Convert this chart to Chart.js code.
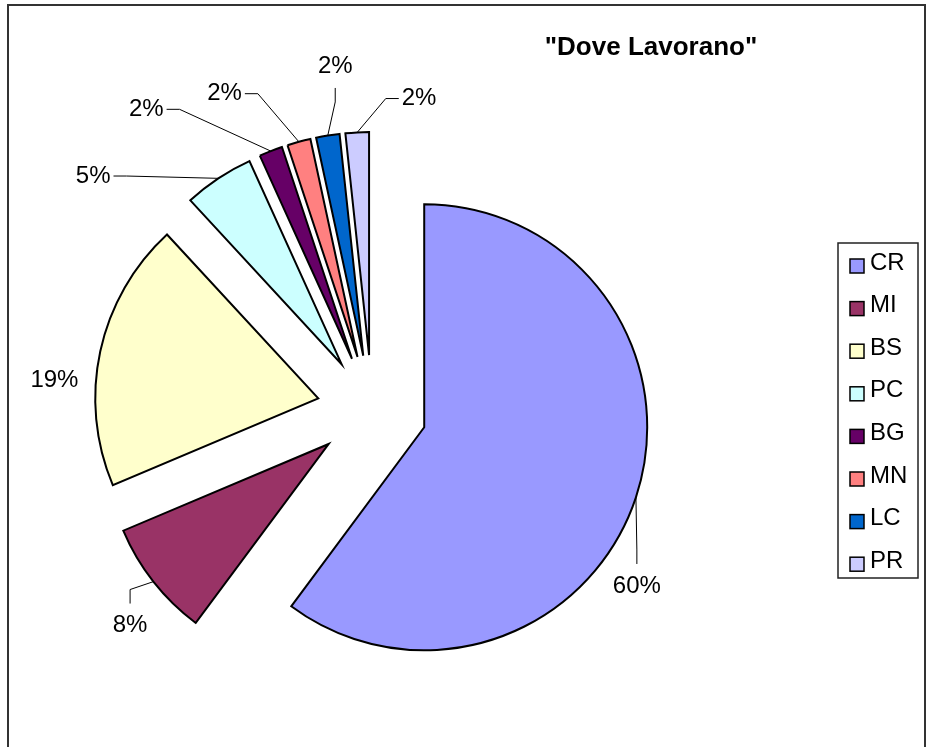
<!DOCTYPE html>
<html>
<head>
<meta charset="utf-8">
<script src="https://cdn.jsdelivr.net/npm/chart.js@4/dist/chart.umd.min.js"></script>
<style>
  html, body { margin: 0; padding: 0; background: #fff; }
  #wrap { width: 933px; height: 747px; }
</style>
</head>
<body>
<div id="wrap"><canvas id="pieChart" width="933" height="747"></canvas></div>
<script>
// Data
const categories = ['CR', 'MI', 'BS', 'PC', 'BG', 'MN', 'LC', 'PR'];
const counts = [71, 10, 23, 6, 2, 2, 2, 2];
const titleText = '"Dove Lavorano"';

// Styling
const sliceColors = ['#9999FF', '#993366', '#FFFFCC', '#CCFFFF', '#660066', '#FF8080', '#0066CC', '#CCCCFF'];
const FONT = "'Liberation Sans', Arial, sans-serif";
const EXPLODE = 55;   // distance every slice is pulled out of the centre
const RADIUS = 223;

// Where the percentage labels sit (degrees clockwise from top, distance from pie centre)
const labelAngle = [123.6, 228.3, 275.4, 310.0, 323.1, 335.0, 353.9, 8.6];
const labelDist = [318, 324, 319, 364, 376, 349, 346, 315];
const showLeader = [true, true, false, true, true, true, true, true];

const total = counts.reduce((a, b) => a + b, 0);

// Draw each slice shifted outwards along its middle angle (Excel style explosion)
const explodePlugin = {
    id: 'explode',
    beforeDatasetDraw(chart, args) {
        const ctx = chart.ctx;
        args.meta.data.forEach(arc => {
            const mid = (arc.startAngle + arc.endAngle) / 2;
            ctx.save();
            ctx.translate(Math.cos(mid) * EXPLODE, Math.sin(mid) * EXPLODE);
            arc.draw(ctx, chart.chartArea);
            ctx.restore();
        });
        return false;
    }
};

// Frame, title, percentage labels with leader lines, boxed legend
const decorPlugin = {
    id: 'decor',
    afterDraw(chart) {
        const ctx = chart.ctx;
        const meta = chart.getDatasetMeta(0);

        // outer frame
        ctx.save();
        ctx.strokeStyle = '#333';
        ctx.lineWidth = 2;
        ctx.strokeRect(8, 5, 917, 800);

        // title
        ctx.fillStyle = '#000';
        ctx.font = 'bold 26px ' + FONT;
        ctx.textAlign = 'center';
        ctx.textBaseline = 'middle';
        ctx.fillText(titleText, 651, 48);

        // percentage labels
        ctx.font = '24px ' + FONT;
        meta.data.forEach((arc, i) => {
            const cx = arc.x, cy = arc.y;
            const a = (labelAngle[i] - 90) * Math.PI / 180;
            const lx = cx + Math.cos(a) * labelDist[i];
            const ly = cy + Math.sin(a) * labelDist[i];
            const txt = Math.round(counts[i] * 100 / total) + '%';
            ctx.fillStyle = '#000';
            ctx.fillText(txt, lx, ly);

            if (!showLeader[i]) return;
            const mid = (arc.startAngle + arc.endAngle) / 2;
            const px = cx + Math.cos(mid) * (EXPLODE + arc.outerRadius);
            const py = cy + Math.sin(mid) * (EXPLODE + arc.outerRadius);
            const dx = px - lx, dy = py - ly;
            const w = ctx.measureText(txt).width;
            let sx, sy, ex, ey;
            if (Math.abs(dy) > Math.abs(dx)) {
                sx = lx; sy = ly + Math.sign(dy) * 22;
                ex = sx; ey = sy + Math.sign(dy) * 14;
            } else {
                sx = lx + Math.sign(dx) * (w / 2 + 3); sy = ly;
                ex = sx + Math.sign(dx) * 13; ey = sy;
            }
            ctx.strokeStyle = '#000';
            ctx.lineWidth = 1;
            ctx.beginPath();
            ctx.moveTo(sx, sy);
            ctx.lineTo(ex, ey);
            ctx.lineTo(px, py);
            ctx.stroke();
        });

        // legend
        ctx.strokeStyle = '#222';
        ctx.lineWidth = 1.5;
        ctx.strokeRect(838, 243, 80, 335);
        ctx.textAlign = 'left';
        categories.forEach((c, i) => {
            const y = 263 + i * 42.6;
            ctx.fillStyle = sliceColors[i];
            ctx.fillRect(850, y - 4, 14, 14);
            ctx.strokeStyle = '#000';
            ctx.lineWidth = 1.5;
            ctx.strokeRect(850, y - 4, 14, 14);
            ctx.fillStyle = '#000';
            ctx.fillText(c, 870, y);
        });
        ctx.restore();
    }
};

const config = {
    type: 'pie',
    data: {
        labels: categories,
        datasets: [{
            data: counts,
            backgroundColor: sliceColors,
            borderColor: '#000',
            borderWidth: 2,
            borderJoinStyle: 'miter',
            offset: 0,
            hoverOffset: 0
        }]
    },
    options: {
        responsive: false,
        animation: false,
        events: [],
        radius: RADIUS,
        layout: { padding: { left: 0, right: 189, top: 73, bottom: 0 } },
        plugins: {
            legend: { display: false },
            title: { display: false },
            tooltip: { enabled: false }
        }
    },
    plugins: [explodePlugin, decorPlugin]
};

document.addEventListener('DOMContentLoaded', () => {
    const canvas = document.getElementById('pieChart');
    if (canvas) {
        new Chart(canvas, config);
    } else {
        console.error('Canvas element with id "pieChart" not found.');
    }
});
</script>
</body>
</html>
